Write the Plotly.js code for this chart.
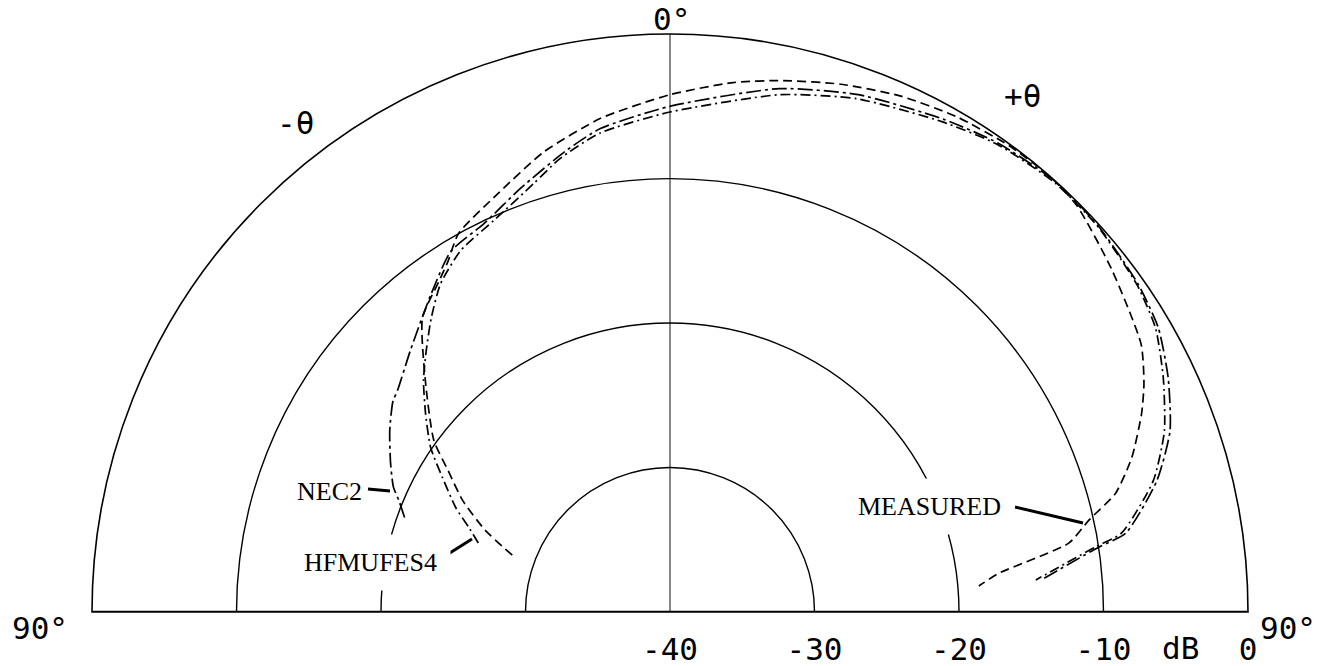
<!DOCTYPE html>
<html>
<head>
<meta charset="utf-8">
<script src="https://cdn.plot.ly/plotly-3.0.1.min.js"></script>
<style>html,body{margin:0;padding:0;background:#fff;}#chart{width:1325px;height:666px;}</style>
</head>
<body>
<div id="chart"></div>
<script>
// Radiation pattern data (theta in degrees, level in dB)
const measuredTheta = [-70.2,-66.1,-61.7,-57.5,-54.0,-46.6,-40.1,-35.0,-32.4,-29.2,-22.4,-15.4,-8.0,0,6.8,12,18,24,30,36,41,45,52.1,60.4,64.3,67.2,71.5,75.1,77.6,80.2,83.3,85.2];
const measuredDb    = [-28.4,-26.0,-23.7,-21.8,-19.8,-16.7,-13.4,-12.1,-11.3,-10.0,-8.7,-7.0,-5.5,-4.2,-3.1,-2.4,-1.6,-0.9,-0.4,-0.1,0,-0.2,-1.3,-2.5,-3.6,-4.6,-6.3,-8.1,-10.3,-12.0,-17.1,-18.55];

const nec2Theta = [-70.4,-67.6,-65.7,-62.0,-57.1,-52.7,-50.9,-44.8,-37.0,-31.3,-25.6,-19.4,-12.8,-8.2,0,11.8,20,29,35,42,48,55,59.8,64.8,70.1,74.9,80.2,81.4,85.1];
const nec2Db    = [-20.5,-19.7,-19.0,-18.1,-16.9,-15.9,-15.7,-14.5,-12.5,-10.8,-10.2,-8.9,-7.3,-6.2,-5.0,-3.0,-1.9,-1.0,-0.4,0,-0.1,-0.45,-0.9,-1.9,-3.2,-5.1,-8.0,-10.0,-14.25];

const hfTheta = [-70.2,-67.2,-64.0,-59.4,-55.5,-50.9,-46.8,-43.1,-39.1,-35.0,-30.1,-24.3,-17.7,-13.6,-8.3,0,12,20,29,35,42,48,55,59.7,64.6,69.9,74.8,80.1,81.3,85.0];
const hfDb    = [-25.9,-24.9,-23.5,-21.7,-19.9,-18.2,-16.6,-15.3,-13.8,-12.3,-11.1,-10.3,-8.9,-7.7,-6.5,-5.4,-3.4,-2.2,-1.2,-0.5,-0.1,-0.15,-0.54,-1.08,-2.21,-3.57,-5.34,-8.29,-10.21,-14.59];

// Axis values
const radialTicks  = [-40,-30,-20,-10,0];
const radialLabels = ['-40','-30','-20','-10','0'];
const angleTicks   = [0];
const baselineTheta = [-90, 90];
const baselineDb    = [0, 0];

const W = 1325, H = 666;
const px = x => x / W;
const py = y => 1 - y / H;
const cx = 670, cy = 612, R = 578;

const curveLine = (dash) => ({color:'#000', width:1.7, dash:dash, shape:'spline', smoothing:0.6});

const traces = [
  {type:'scatterpolar', mode:'lines', theta: baselineTheta, r: baselineDb, cliponaxis:false,
   line:{color:'#000', width:2.4}, hoverinfo:'skip', name:'baseline'},
  {type:'scatterpolar', mode:'lines', theta: nec2Theta, r: nec2Db, name:'NEC2',
   line: curveLine('15px,4px,3px,4px')},
  {type:'scatterpolar', mode:'lines', theta: hfTheta, r: hfDb, name:'HFMUFES4',
   line: curveLine('10px,4px,2px,4px')},
  {type:'scatterpolar', mode:'lines', theta: measuredTheta, r: measuredDb, name:'MEASURED',
   line: curveLine('9px,5px')}
];

const monoFont = {family:'DejaVu Sans Mono', size:31, color:'#000'};
const serifFont = {family:'Liberation Serif', size:26, color:'#000'};

function label(text, x, y, font, extra) {
  return Object.assign({text:text, x:px(x), y:py(y), xref:'paper', yref:'paper',
    xanchor:'center', yanchor:'middle', showarrow:false, font:font}, extra || {});
}

const layout = {
  width: W, height: H,
  margin:{l:0,r:0,t:0,b:0, autoexpand:false},
  paper_bgcolor:'#fff',
  showlegend:false,
  polar:{
    domain:{x:[px(cx-R), px(cx+R)], y:[py(cy), py(cy-R)]},
    sector:[0,180],
    bgcolor:'#fff',
    hole:0,
    radialaxis:{
      range:[-40,0], angle:0, side:'clockwise',
      tickvals: radialTicks, ticktext: radialLabels,
      ticks:'outside', ticklen:10, tickcolor:'rgba(0,0,0,0)',
      tickfont: monoFont, tickangle:0,
      showline:false, showgrid:true, gridcolor:'#000', gridwidth:1.4
    },
    angularaxis:{
      rotation:90, direction:'clockwise',
      tickvals: angleTicks, showticklabels:false,
      ticks:'',
      showline:true, linecolor:'#000', linewidth:1.6,
      showgrid:true, gridcolor:'#111', gridwidth:1
    }
  },
  annotations:[
    label('0°', 672, 19, monoFont),
    label('90°', 40, 628, monoFont),
    label('90°', 1288, 628, monoFont),
    label('-θ', 295, 123, monoFont),
    label('+θ', 1022, 96, monoFont),
    label('dB', 1180, 648, monoFont),
    label('NEC2', 329, 491, serifFont, {bgcolor:'#fff', borderpad:3}),
    label('HFMUFES4', 370, 562, serifFont, {bgcolor:'#fff', borderpad:13}),
    label('MEASURED', 929, 506, serifFont, {bgcolor:'#fff', borderpad:13})
  ],
  shapes:[
    {type:'line', xref:'paper', yref:'paper', x0:px(368), y0:py(489), x1:px(390), y1:py(491), line:{color:'#000', width:3}},
    {type:'line', xref:'paper', yref:'paper', x0:px(445), y0:py(556), x1:px(472), y1:py(539), line:{color:'#000', width:3}},
    {type:'line', xref:'paper', yref:'paper', x0:px(1015), y0:py(507), x1:px(1083), y1:py(523), line:{color:'#000', width:3}}
  ]
};

Plotly.newPlot('chart', traces, layout, {displayModeBar:false, staticPlot:true});
</script>
</body>
</html>
